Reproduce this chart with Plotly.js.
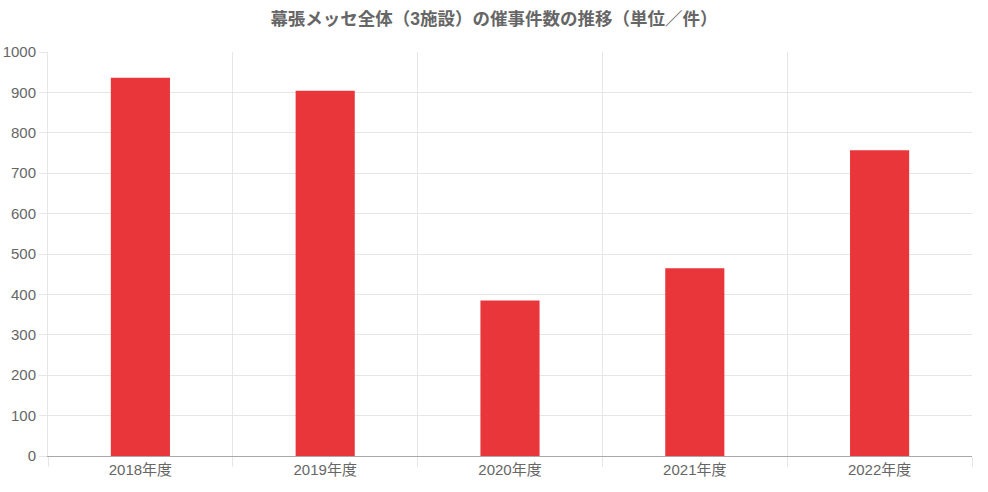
<!DOCTYPE html>
<html>
<head>
<meta charset="utf-8">
<script src="https://cdn.plot.ly/plotly-3.0.1.min.js"></script>
<style>html,body{margin:0;padding:0;background:#fff;}#chart{width:988px;height:492px;}</style>
</head>
<body>
<div id="chart"></div>
<script>
const categories = ["2018年度", "2019年度", "2020年度", "2021年度", "2022年度"];
const eventCounts = [936, 904, 385, 465, 757];
const yTickValues = [0, 100, 200, 300, 400, 500, 600, 700, 800, 900, 1000];
const chartTitle = "幕張メッセ全体（3施設）の催事件数の推移（単位／件）";

const FONT = "Liberation Sans, Arial, Noto Sans CJK JP, sans-serif";

const trace = {
  type: "bar",
  x: categories,
  y: eventCounts,
  width: 0.32,
  marker: {color: "#E8363A", line: {width: 0}},
  hoverinfo: "x+y"
};

const layout = {
  width: 988,
  height: 492,
  margin: {l: 48, r: 16, t: 52, b: 36, pad: 0},
  paper_bgcolor: "#ffffff",
  plot_bgcolor: "#ffffff",
  showlegend: false,
  title: {
    text: "<b>" + chartTitle + "</b>",
    x: 0.5,
    xanchor: "center",
    y: 0.961,
    yanchor: "middle",
    font: {family: FONT, size: 17.5, color: "#666666"}
  },
  xaxis: {
    type: "category",
    tickson: "boundaries",
    showgrid: true,
    gridcolor: "#e6e6e6",
    gridwidth: 1,
    ticks: "outside",
    ticklen: 10,
    tickcolor: "#e6e6e6",
    showline: true,
    linecolor: "#a8a8a8",
    linewidth: 1,
    tickfont: {family: FONT, size: 15, color: "#666666"},
    fixedrange: true
  },
  yaxis: {
    range: [0, 1000],
    tickvals: yTickValues,
    ticktext: yTickValues.map(String),
    showgrid: true,
    gridcolor: "#e6e6e6",
    gridwidth: 1,
    zeroline: false,
    ticks: "outside",
    ticklen: 8,
    tickcolor: "#e6e6e6",
    showline: true,
    linecolor: "#e6e6e6",
    tickfont: {family: FONT, size: 15, color: "#666666"},
    fixedrange: true
  },
  bargap: 0.68
};

Plotly.newPlot("chart", [trace], layout, {displayModeBar: false, staticPlot: true});
</script>
</body>
</html>
